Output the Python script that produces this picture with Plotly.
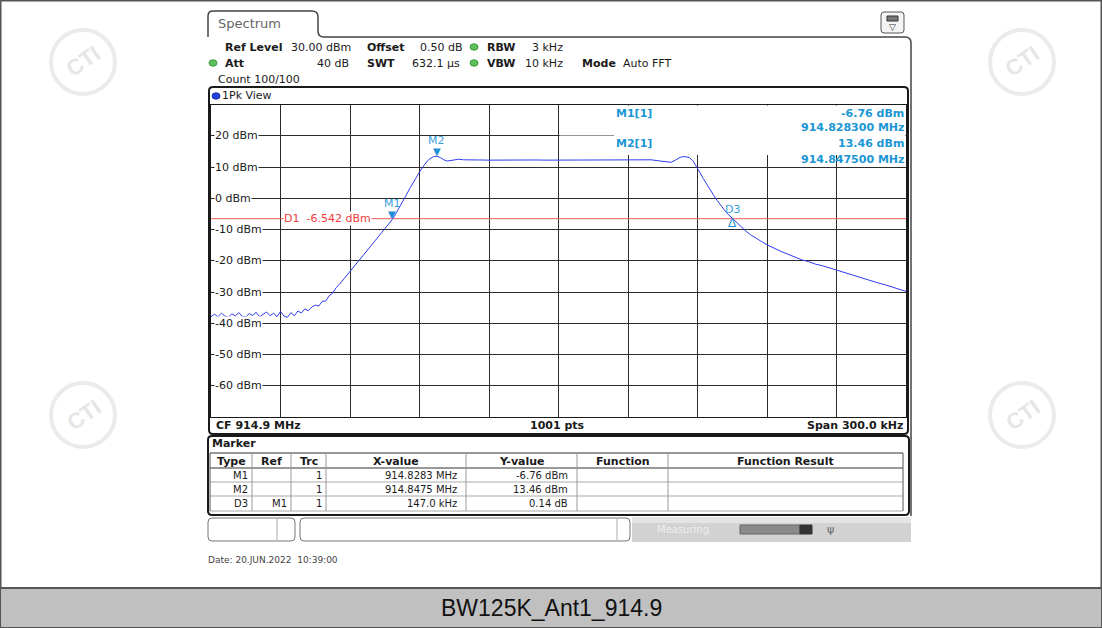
import plotly.graph_objects as go

W, H = 1102, 628

# ---------------- data ----------------
start_mhz = 914.75
stop_mhz = 915.05
ref_level_dbm = 30
bottom_level_dbm = -70

freq_offset_khz = [
    0.0, 1.5, 3.0, 4.5, 6.0, 7.5, 9.0, 10.5, 12.0, 13.5, 15.0, 16.5, 18.0, 19.5,
    21.0, 22.5, 24.0, 25.5, 27.0, 28.5, 30.0, 31.5, 33.0, 34.5, 36.0, 37.5, 39.0,
    40.5, 42.0, 43.5, 45.0, 46.5, 48.0, 49.5, 51.0, 52.5, 54.0, 55.5, 57.0, 58.5,
    60.0, 62.0, 64.0, 66.0, 68.0, 70.0, 72.0, 74.0, 76.0, 78.3, 80.0, 82.0, 84.0,
    86.0, 88.0, 90.0, 92.0, 94.0, 96.0, 97.5, 99.0, 100.5, 102.0, 103.5, 105.0,
    107.0, 109.0, 112.0, 116.0, 120.0, 125.0, 130.0, 135.0, 140.0, 145.0, 150.0,
    155.0, 160.0, 165.0, 170.0, 175.0, 180.0, 185.0, 190.0, 193.0, 196.0, 198.5,
    200.5, 202.5, 204.5, 206.5, 208.0, 209.5, 211.0, 212.5, 214.0, 215.5, 217.0,
    218.5, 220.0, 221.5, 223.0, 225.3, 227.0, 229.0, 231.0, 233.0, 235.0, 237.5,
    240.0, 243.0, 246.0, 249.0, 252.0, 255.0, 258.0, 261.0, 264.0, 267.0, 270.0,
    273.0, 276.0, 279.0, 282.0, 285.0, 288.0, 291.0, 294.0, 297.0, 300.0,
]
level_dbm = [
    -37.9, -37.1, -37.9, -36.8, -37.7, -38.1, -37.0, -37.6, -36.6, -37.8, -38.0, -36.9, -37.5, -36.5,
    -37.9, -37.2, -36.4, -37.6, -36.8, -37.9, -36.2, -37.7, -38.1, -36.6, -37.6, -36.1, -36.7,
    -35.4, -36.0, -34.8, -34.2, -34.5, -33.0, -32.9, -31.2, -30.4, -28.6, -27.5, -26.2, -24.9,
    -23.4, -21.6, -19.8, -18.0, -16.2, -14.4, -12.5, -10.7, -8.9, -6.76, -4.6, -2.2, 0.6,
    3.4, 6.0, 8.4, 10.6, 12.4, 13.3, 13.46, 13.0, 12.3, 11.9, 12.1, 12.4,
    12.5, 12.3, 12.2, 12.25, 12.2, 12.25, 12.2, 12.2, 12.25, 12.2, 12.2,
    12.25, 12.2, 12.2, 12.25, 12.2, 12.3, 12.25, 12.3, 12.0, 11.6, 11.5,
    12.2, 13.1, 13.35, 13.0, 12.0, 10.3, 8.3, 6.3, 4.4, 2.6, 0.9,
    -0.7, -2.3, -3.7, -5.0, -6.62, -7.9, -9.3, -10.6, -11.7, -12.7, -13.8,
    -14.9, -16.0, -17.0, -17.9, -18.9, -19.7, -20.3, -21.1, -21.6, -22.3, -23.1,
    -23.6, -24.3, -25.0, -25.7, -26.5, -27.1, -27.7, -28.4, -28.9, -29.8,
]

ytick_values = [20, 10, 0, -10, -20, -30, -40, -50, -60]
ytick_labels = ["20 dBm", "10 dBm", "0 dBm", "-10 dBm", "-20 dBm", "-30 dBm", "-40 dBm", "-50 dBm", "-60 dBm"]

marker_names = ["M1", "M2"]
marker_freq_mhz = [914.8283, 914.8475]
marker_level_dbm = [-6.76, 13.46]
delta_name = "D3"
delta_offset_khz = 147.0
delta_level_db = 0.14
d1_level_dbm = -6.542

table_header = ["Type", "Ref", "Trc", "X-value", "Y-value", "Function", "Function Result"]
table_type = ["M1", "M2", "D3"]
table_ref = ["", "", "M1"]
table_trc = ["1", "1", "1"]
table_x = ["914.8283 MHz", "914.8475 MHz", "147.0 kHz"]
table_y = ["-6.76 dBm", "13.46 dBm", "0.14 dB"]

title_text = "BW125K_Ant1_914.9"

# ---------------- helpers ----------------
def px(x):
    return x / W

def py(y):
    return 1 - y / H

shapes = []
annotations = []

def txt(x, y, s, size=11, color="#1a1a1a", xanchor="left", bold=False,
        family="DejaVu Sans", bg="rgba(0,0,0,0)", ref="paper", yshift=0, angle=0):
    if ref == "paper":
        xx, yy, xr, yr = px(x), py(y), "paper", "paper"
    else:
        xx, yy, xr, yr = x, y, "x", "y"
    annotations.append(dict(
        x=xx, y=yy, xref=xr, yref=yr, text=("<b>%s</b>" % s) if bold else s,
        showarrow=False, xanchor=xanchor, yanchor="middle", yshift=yshift,
        font=dict(size=size, color=color, family=family), bgcolor=bg,
        borderpad=0, textangle=angle))

def rect(x0, y0, x1, y1, line="#222", width=1, fill="rgba(0,0,0,0)", layer="above"):
    shapes.append(dict(type="rect", xref="paper", yref="paper",
                       x0=px(x0), y0=py(y0), x1=px(x1), y1=py(y1),
                       line=dict(color=line, width=width), fillcolor=fill, layer=layer))

def line(x0, y0, x1, y1, color="#222", width=1, layer="above"):
    shapes.append(dict(type="line", xref="paper", yref="paper",
                       x0=px(x0), y0=py(y0), x1=px(x1), y1=py(y1),
                       line=dict(color=color, width=width), layer=layer))

def rpath(x0, y0, x1, y1, r, color="#222", width=1, fill="rgba(0,0,0,0)", layer="above"):
    pts = (f"M {px(x0+r)},{py(y0)} L {px(x1-r)},{py(y0)} "
           f"Q {px(x1)},{py(y0)} {px(x1)},{py(y0+r)} L {px(x1)},{py(y1-r)} "
           f"Q {px(x1)},{py(y1)} {px(x1-r)},{py(y1)} L {px(x0+r)},{py(y1)} "
           f"Q {px(x0)},{py(y1)} {px(x0)},{py(y1-r)} L {px(x0)},{py(y0+r)} "
           f"Q {px(x0)},{py(y0)} {px(x0+r)},{py(y0)} Z")
    shapes.append(dict(type="path", xref="paper", yref="paper", path=pts,
                       line=dict(color=color, width=width), fillcolor=fill, layer=layer))

def dot(cx, cy, r, fill, edge):
    shapes.append(dict(type="circle", xref="paper", yref="paper",
                       x0=px(cx - r), y0=py(cy - r * 0.8), x1=px(cx + r), y1=py(cy + r * 0.8),
                       line=dict(color=edge, width=1), fillcolor=fill))

# ---------------- figure ----------------
freqs = [start_mhz + k / 1000.0 for k in freq_offset_khz]

fig = go.Figure()
fig.add_trace(go.Scatter(x=freqs, y=level_dbm, mode="lines",
                         line=dict(color="#2f3bf0", width=1), hoverinfo="skip"))

# watermarks (faint logos)
for (cx, cy) in [(83, 62), (1022, 62), (83, 415), (1022, 415)]:
    shapes.append(dict(type="circle", xref="paper", yref="paper",
                       x0=px(cx - 32), y0=py(cy - 32), x1=px(cx + 32), y1=py(cy + 32),
                       line=dict(color="#ebebeb", width=4), layer="below"))
    txt(cx, cy, "CTI", size=22, color="#e6e6e6", xanchor="center", bold=True,
        family="Liberation Sans", angle=-35)

# outer border + bottom title band
rect(0.5, 0.5, W - 0.5, H - 0.5, line="#555", width=2)
rect(0, 588, W, H, line="#555", width=2, fill="#c0c0c0")
txt(551, 608, title_text, size=23, color="#111", xanchor="center", family="Liberation Sans")

# spectrum tab + panel outline
tab = (f"M {px(208)},{py(37)} L {px(208)},{py(16)} Q {px(208)},{py(11)} {px(213)},{py(11)} "
       f"L {px(312)},{py(11)} Q {px(318)},{py(11)} {px(318)},{py(17)} L {px(318)},{py(31)} "
       f"Q {px(318)},{py(37)} {px(324)},{py(37)} L {px(905)},{py(37)} "
       f"Q {px(911)},{py(37)} {px(911)},{py(43)} L {px(911)},{py(516)}")
shapes.append(dict(type="path", xref="paper", yref="paper", path=tab,
                   line=dict(color="#444", width=1.5)))
txt(217, 24, "Spectrum", size=13, color="#666")
rpath(881, 12, 904, 33, 3, color="#555", width=1, fill="#f4f4f4")
rect(887, 16, 898, 21, line="#333", width=1, fill="#777")
txt(892.5, 27, "▽", size=9, color="#333", xanchor="center")

# header
hy1, hy2, hy3 = 47, 63, 79
txt(224, hy1, "Ref Level", bold=True)
txt(290, hy1, "30.00 dBm")
txt(366, hy1, "Offset", bold=True)
txt(419, hy1, "0.50 dB")
txt(486, hy1, "RBW", bold=True)
txt(531, hy1, "3 kHz")
txt(224, hy2, "Att", bold=True)
txt(350, hy2, "40 dB", xanchor="right")
txt(366, hy2, "SWT", bold=True)
txt(411, hy2, "632.1 µs")
txt(486, hy2, "VBW", bold=True)
txt(524, hy2, "10 kHz")
txt(581, hy2, "Mode", bold=True)
txt(622, hy2, "Auto FFT")
txt(217, hy3, "Count 100/100")
for (cx, cy) in [(474, hy1), (213, hy2), (474, hy2)]:
    dot(cx, cy, 4, "#5cc05c", "#3c9a3c")

# plot frame
rpath(209, 87, 908, 434, 4, color="#1a1a1a", width=2)
dot(216, 96, 4, "#2244dd", "#1b2fb0")
txt(221, 96, "1Pk View", size=11)

# white box behind marker readout (covers grid only, above the flat trace)
rect(614, 105.5, 905.5, 155, line="rgba(0,0,0,0)", width=0, fill="white", layer="above")
rect(559.5, 105.5, 614, 135.5, line="rgba(0,0,0,0)", width=0, fill="white", layer="above")

# y labels
for v, lab in zip(ytick_values, ytick_labels):
    annotations.append(dict(x=px(214), y=v, xref="paper", yref="y", text=lab,
                            showarrow=False, xanchor="left", yanchor="middle",
                            font=dict(size=11, color="#1a1a1a", family="DejaVu Sans"),
                            bgcolor="white", borderpad=0))

# D1 line
shapes.append(dict(type="line", xref="paper", yref="y", x0=px(211), x1=px(906),
                   y0=d1_level_dbm, y1=d1_level_dbm, line=dict(color="#f05a5a", width=1)))
annotations.append(dict(x=px(283), y=d1_level_dbm, xref="paper", yref="y",
                        text=f"D1  {d1_level_dbm:.3f} dBm", showarrow=False,
                        xanchor="left", yanchor="middle", bgcolor="white", borderpad=0,
                        font=dict(size=11, color="#f03c3c", family="DejaVu Sans")))

# markers
mcol = "#1f8fd8"
for name, f, lv in zip(marker_names, marker_freq_mhz, marker_level_dbm):
    txt(f, lv, "▼", size=10, color=mcol, xanchor="center", ref="data", yshift=5)
    txt(f, lv, name, size=11, color="#3aa0dc", xanchor="center", ref="data", yshift=16)
d_f = marker_freq_mhz[0] + delta_offset_khz / 1000.0
d_l = marker_level_dbm[0] + delta_level_db
txt(d_f, d_l, "Δ", size=12, color=mcol, xanchor="center", ref="data", yshift=-4)
txt(d_f, d_l, delta_name, size=11, color="#3aa0dc", xanchor="center", ref="data", yshift=9)

# marker readout
rc = "#1a96d4"
txt(615, 113, f"{marker_names[0]}[1]", color=rc, bold=True, size=11)
txt(905, 113, f"{marker_level_dbm[0]:.2f} dBm", color=rc, bold=True, xanchor="right")
txt(905, 128, f"{marker_freq_mhz[0]:.6f} MHz", color=rc, bold=True, xanchor="right")
txt(615, 144, f"{marker_names[1]}[1]", color=rc, bold=True, size=11)
txt(905, 144, f"{marker_level_dbm[1]:.2f} dBm", color=rc, bold=True, xanchor="right")
txt(905, 159, f"{marker_freq_mhz[1]:.6f} MHz", color=rc, bold=True, xanchor="right")

# bottom info row
txt(215, 425, "CF 914.9 MHz", bold=True)
txt(557, 425, "1001 pts", bold=True, xanchor="center")
txt(904, 425, "Span 300.0 kHz", bold=True, xanchor="right")

# marker table
rpath(208, 436, 909, 515, 4, color="#1a1a1a", width=2)
txt(211, 444, "Marker", bold=True)
col_edges = [210, 252, 291, 326, 466, 577, 668, 903]
row_edges = [453, 468, 482, 496, 511]
for i, yv in enumerate(row_edges):
    line(210, yv, 903, yv, color="#333" if i < 2 else "#aaa", width=1)
for i, xv in enumerate(col_edges):
    line(xv, row_edges[0], xv, row_edges[-1], color="#555" if i in (0, 7) else "#999", width=1)
for i, hdr in enumerate(table_header):
    txt((col_edges[i] + col_edges[i + 1]) / 2, 461, hdr, bold=True, xanchor="center", size=11)
for r in range(3):
    yc = (row_edges[r + 1] + row_edges[r + 2]) / 2
    txt(249, yc, table_type[r], size=10, xanchor="right")
    txt(288, yc, table_ref[r], size=10, xanchor="right")
    txt(323, yc, table_trc[r], size=10, xanchor="right")
    txt(458, yc, table_x[r], size=10, xanchor="right")
    txt(569, yc, table_y[r], size=10, xanchor="right")

# status bar
rpath(208, 518, 295, 541, 4, color="#777", width=1, fill="white")
line(277, 519, 277, 540, color="#aaa")
rpath(300, 518, 630, 541, 4, color="#777", width=1, fill="white")
line(617, 519, 617, 540, color="#aaa")
rect(632, 517, 911, 542, line="rgba(0,0,0,0)", width=0, fill="#d2d2d2")
rect(632, 517, 911, 523, line="rgba(0,0,0,0)", width=0, fill="#e4e4e4")
txt(683, 529, "Measuring", size=10, color="#eeeeee", xanchor="center")
rect(740, 525, 800, 534, line="#666", width=1, fill="#8a8a8a")
rect(800, 525, 812, 534, line="#333", width=1, fill="#333")
txt(830, 529, "ψ", size=11, color="#666", xanchor="center")

# date
txt(207, 560, "Date: 20.JUN.2022  10:39:00", size=9, color="#444")

fig.update_layout(
    width=W, height=H, margin=dict(l=0, r=0, t=0, b=0),
    paper_bgcolor="white", plot_bgcolor="white", showlegend=False,
    shapes=shapes, annotations=annotations,
    xaxis=dict(domain=[px(211), px(906)], range=[start_mhz, stop_mhz],
               tick0=start_mhz, dtick=(stop_mhz - start_mhz) / 10,
               showgrid=True, gridcolor="#2b2b2b", gridwidth=1, zeroline=False,
               showticklabels=False, ticks="", showline=True, linecolor="#1a1a1a",
               linewidth=1, mirror=True, fixedrange=True),
    yaxis=dict(domain=[py(417), py(104.5)], range=[bottom_level_dbm, ref_level_dbm],
               tick0=bottom_level_dbm, dtick=10,
               showgrid=True, gridcolor="#2b2b2b", gridwidth=1, zeroline=False,
               showticklabels=False, ticks="", showline=True, linecolor="#1a1a1a",
               linewidth=1, mirror=True, fixedrange=True),
)

fig.write_html("out.html", config={"displayModeBar": False},
               post_script="document.body.style.margin='0px';document.body.style.overflow='hidden';")
